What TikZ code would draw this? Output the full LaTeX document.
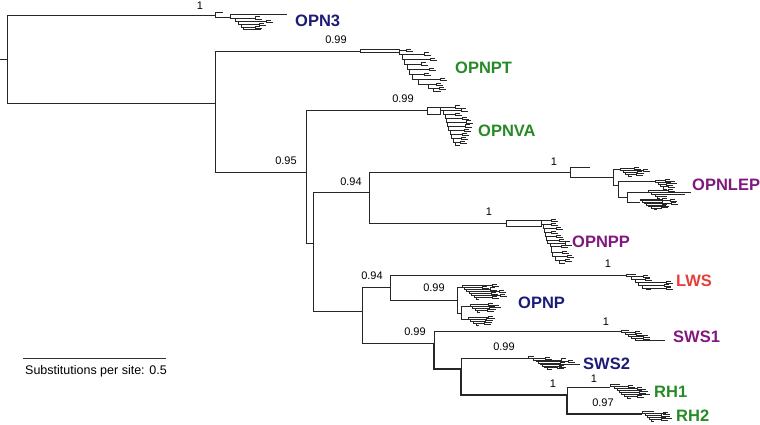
\documentclass[tikz,border=0pt]{standalone}
\usepackage{fontspec}
\setmainfont{Liberation Sans}
\definecolor{navyc}{RGB}{28,28,120}
\definecolor{greenc}{RGB}{38,138,38}
\definecolor{purplec}{RGB}{128,24,128}
\definecolor{redc}{RGB}{232,62,58}
\tikzset{
  br/.style={line width=0.8pt, draw=black!85},
  thk/.style={line width=1.6pt, draw=black!85},
  bs/.style={inner sep=0pt, font=\fontsize{11}{13}\selectfont},
  cl/.style={inner sep=0pt, anchor=west, font=\fontsize{16.5}{18}\selectfont\bfseries},
}
\newcommand\ladder[3]{%
  \xdef\lx{#1}\xdef\ly{#2}%
  \foreach \la/\lb/\lc/\ld in {#3}{%
    \draw[br] (\lx,\ly) -- ++(\lc,0);
    \ifdim\ld pt>0pt
      \draw[br] (\lx+\lc,\ly-\ld) -- (\lx+\lc,\ly+\ld);
      \draw[br] (\lx+\lc,\ly-\ld) -- ++(5,0);
      \draw[br] (\lx+\lc,\ly+\ld) -- ++(7,0);
    \fi
    \draw[br] (\lx,\ly) -- (\lx,\ly+\lb) -- (\lx+\la,\ly+\lb);
    \pgfmathsetmacro\nx{\lx+\la}\pgfmathsetmacro\ny{\ly+\lb}%
    \xdef\lx{\nx}\xdef\ly{\ny}%
  }%
}
\begin{document}
\begin{tikzpicture}[x=1pt,y=-1pt]
\useasboundingbox (0,0) rectangle (760,425);
% root
\draw[br] (0,59)--(7,59);
\draw[br] (215,15)--(7,15)--(7,103)--(215,103);
% OPN3
\draw[br] (223,12)--(215,12)--(215,17.7)--(230,17.7);
\ladder{230}{14}{5/4/57/0, 3/3/20/1.5, 3/3/28/1, 2/3/18/1, 18/2/12/1}
% node A
\draw[br] (215,51)--(215,172);
% OPNPT
\draw[br] (215,51)--(360,51);
\draw[br] (360,49.5) rectangle (399,52.5);
\ladder{399}{50}{3/4/7/1, 2/5/22/1.5, 3/5/26/1, 2/5/14/1.5, 3/5/20/1, 6/5/12/1, 10/5/22/1, 5/4/8/1, 8/3/6/1}
% node B
\draw[br] (215,172)--(306,172);
\draw[br] (306,110)--(306,243);
% OPNVA
\draw[br] (306,110)--(427,110);
\draw[br] (427,107) rectangle (440,114);
\ladder{440}{107}{3/3/15/1.5, 2/4/18/1.5, 1/4/10/1, 1/4/16/1, 1/4/19/1.5, 2/4/17/1.5, 1/4/14/1, 2/4/11/1, 2/4/8/1, 5/3/5/1}
% node C
\draw[br] (306,243)--(313,243);
\draw[br] (313,192)--(313,311);
% node D
\draw[br] (313,192)--(369,192);
\draw[br] (369,172)--(369,223);
% OPNLEP
\draw[br] (369,172)--(570,172);
\draw[br] (590,167)--(570,167)--(570,177)--(613,177);
\draw[br] (613,169)--(613,185);
\draw[br] (613,169)--(620,169);
\ladder{620}{168}{3/2/14/1, 2/2/20/1, 3/2/12/1, 4/2/8/1}
\draw[br] (613,185)--(618,185);
\draw[br] (618,181)--(618,197);
\draw[br] (618,181)--(655,181);
\ladder{655}{180}{3/2/10/1, 2/2/12/1, 3/2/6/1, 4/3/5/1}
\draw[br] (618,197)--(627,197);
\draw[br] (627,192)--(627,202);
\draw[br] (627,192)--(648,192);
\ladder{648}{190}{3/2/20/1, 4/2/40/0, 2/2/30/0, 3/2/10/0}
\draw[br] (627,202)--(640,202);
\ladder{640}{199}{2/1.5/22/1, 2/1.5/28/1, 2/1.5/18/1.5, 2/1.5/25/1, 3/1.5/14/1, 3/1.5/10/1, 3/1.5/8/0}
% OPNPP
\draw[br] (369,223)--(506,223);
\draw[br] (506,220) rectangle (541,226.5);
\ladder{541}{220}{2/4/10/1, 1/4/8/1, 1/4/12/1, 1/4/6/1, 1/4/10/1, 3/3/12/1, 1/3/15/2, 1/6/10/1, 3/4/10/1, 4/4/12/1, 6/3/6/1}
% node E
\draw[br] (313,311)--(362,311);
\draw[br] (362,287)--(362,343);
% node F
\draw[br] (362,287)--(390,287);
\draw[br] (390,275)--(390,300);
% LWS
\draw[br] (390,275)--(626,275);
\ladder{626}{274}{5/2/10/0, 4/3/12/1, 3/3/10/1, 4/3/28/1, 4/3/22/1, 5/1/20/1}
% OPNP
\draw[br] (390,300)--(457,300);
\draw[br] (457,287)--(457,313);
\draw[br] (457,287)--(462,287);
\ladder{462}{285}{2/2/30/1, 2/2/18/1, 3/2/24/1.5, 2/2/30/1, 3/2/20/1, 2/2/26/1, 3/2/16/1}
\draw[br] (457,313)--(461,313);
\draw[br] (461,306)--(461,319);
\draw[br] (461,306)--(470,306);
\ladder{470}{304}{2/2/18/1, 3/2/22/1, 2/2/14/1, 3/2/10/1}
\draw[br] (461,319)--(468,319);
\ladder{468}{317}{2/2/20/1, 3/2/16/1, 3/2/12/1, 3/2/8/1}
% node G
\draw[br] (362,343)--(434,343);
\draw[br] (434,331)--(434,343);
\draw[thk] (434,343)--(434,369)--(461,369);
% SWS1
\draw[br] (434,331)--(621,331);
\ladder{621}{330}{4/2/8/0, 3/2/10/1, 3/2/8/1, 4/2/12/1, 30/2/8/1}
% node H
\draw[br] (461,358)--(461,369);
\draw[thk] (461,369)--(461,395)--(567,395);
% SWS2
\draw[br] (461,358)--(528,358);
\ladder{528}{356}{5/2/6/0, 3/2/12/1, 2/1.5/25/1.5, 2/1.5/30/1, 2/1.5/20/1, 2/1.5/38/0, 3/1.5/15/1, 5/1.5/10/1}
% node I
\draw[br] (567,387)--(567,395);
\draw[thk] (567,395)--(567,414)--(642,414);
% RH1
\draw[br] (567,387)--(610,387);
\ladder{610}{384}{4/2/10/0, 3/2/14/1, 2/2/20/1, 2/2/22/1, 3/2/18/1, 3/2/26/0, 4/2/10/1}
% RH2
\ladder{642}{411}{3/2/12/0, 2/2/18/1, 2/2/14/1.5, 2/2/16/1, 3/2/10/1}
% support values
\node[bs] (s1) at (200,6) {1};
\node[bs] (s2) at (336,40) {0.99};
\node[bs] (s3) at (403,99) {0.99};
\node[bs] (s4) at (286,161) {0.95};
\node[bs] (s5) at (351,182) {0.94};
\node[bs] (s6) at (554,162) {1};
\node[bs] (s7) at (489,212) {1};
\node[bs] (s8) at (372,276) {0.94};
\node[bs] (s9) at (608,264) {1};
\node[bs] (s10) at (434,288) {0.99};
\node[bs] (s11) at (415,332) {0.99};
\node[bs] (s12) at (606,322) {1};
\node[bs] (s13) at (504,347) {0.99};
\node[bs] (s14) at (594,378.5) {1};
\node[bs] (s15) at (553,384) {1};
\node[bs] (s16) at (603,403) {0.97};
% clade labels
\node[cl, text=navyc] (opn3) at (295,21) {OPN3};
\node[cl, text=greenc] (opnpt) at (455,68) {OPNPT};
\node[cl, text=greenc] (opnva) at (478,131) {OPNVA};
\node[cl, text=purplec] (opnlep) at (692,185) {OPNLEP};
\node[cl, text=purplec] (opnpp) at (572,242) {OPNPP};
\node[cl, text=redc] (lws) at (676,281) {LWS};
\node[cl, text=navyc] (opnp) at (518,303) {OPNP};
\node[cl, text=purplec] (sws1) at (673,337) {SWS1};
\node[cl, text=navyc] (sws2) at (583,364) {SWS2};
\node[cl, text=greenc] (rh1) at (654,392) {RH1};
\node[cl, text=greenc] (rh2) at (676,416) {RH2};
% scale bar
\coordinate (sbA) at (23,358);
\coordinate (sbB) at (166,358);
\draw[line width=0.7pt, draw=black!80] (sbA)--(sbB);
\node[inner sep=0pt, anchor=north west, font=\fontsize{12.5}{14}\selectfont] (sbt) at (25,365) {Substitutions per site: 0.5};
\end{tikzpicture}
\end{document}
